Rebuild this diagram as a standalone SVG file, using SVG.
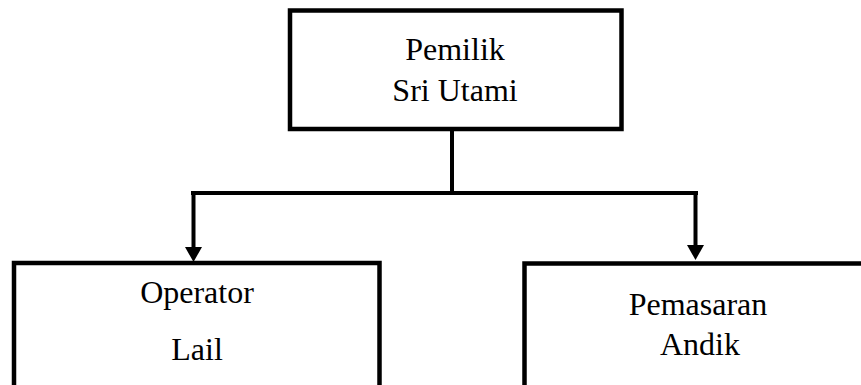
<svg xmlns="http://www.w3.org/2000/svg" width="861" height="385" viewBox="0 0 861 385">
<style>
.box{fill:#fff;stroke:#000;stroke-width:4.5}
.con{fill:none;stroke:#000;stroke-width:4}
text{font-size:32px;fill:#000;text-anchor:middle}
</style>
<rect width="861" height="385" fill="#fff"/>
<g id="connectors">
<line class="con" x1="452" y1="129" x2="452" y2="193"/>
<line class="con" x1="191" y1="193" x2="698" y2="193"/>
<line class="con" x1="193.5" y1="193" x2="193.5" y2="248"/>
<polygon points="185,247 202,247 193.5,262" fill="#000"/>
<line class="con" x1="695.5" y1="193" x2="695.5" y2="246"/>
<polygon points="687,245 704,245 695.5,260" fill="#000"/>
</g>
<g id="pemilik">
<rect class="box" x="290" y="10.5" width="331.5" height="118.5"/>
<text font-family="'Liberation Serif', 'Times New Roman', 'DejaVu Serif', serif" x="455" y="60">Pemilik</text>
<text font-family="'Liberation Serif', 'Times New Roman', 'DejaVu Serif', serif" x="455" y="101">Sri Utami</text>
</g>
<g id="operator">
<rect class="box" x="14" y="263" width="365.5" height="140"/>
<text font-family="'Liberation Serif', 'Times New Roman', 'DejaVu Serif', serif" x="197" y="303">Operator</text>
<text font-family="'Liberation Serif', 'Times New Roman', 'DejaVu Serif', serif" x="197" y="360">Lail</text>
</g>
<g id="pemasaran">
<rect class="box" x="524.5" y="263.5" width="345" height="140"/>
<text font-family="'Liberation Serif', 'Times New Roman', 'DejaVu Serif', serif" x="698" y="315">Pemasaran</text>
<text font-family="'Liberation Serif', 'Times New Roman', 'DejaVu Serif', serif" x="700" y="355">Andik</text>
</g>
</svg>
